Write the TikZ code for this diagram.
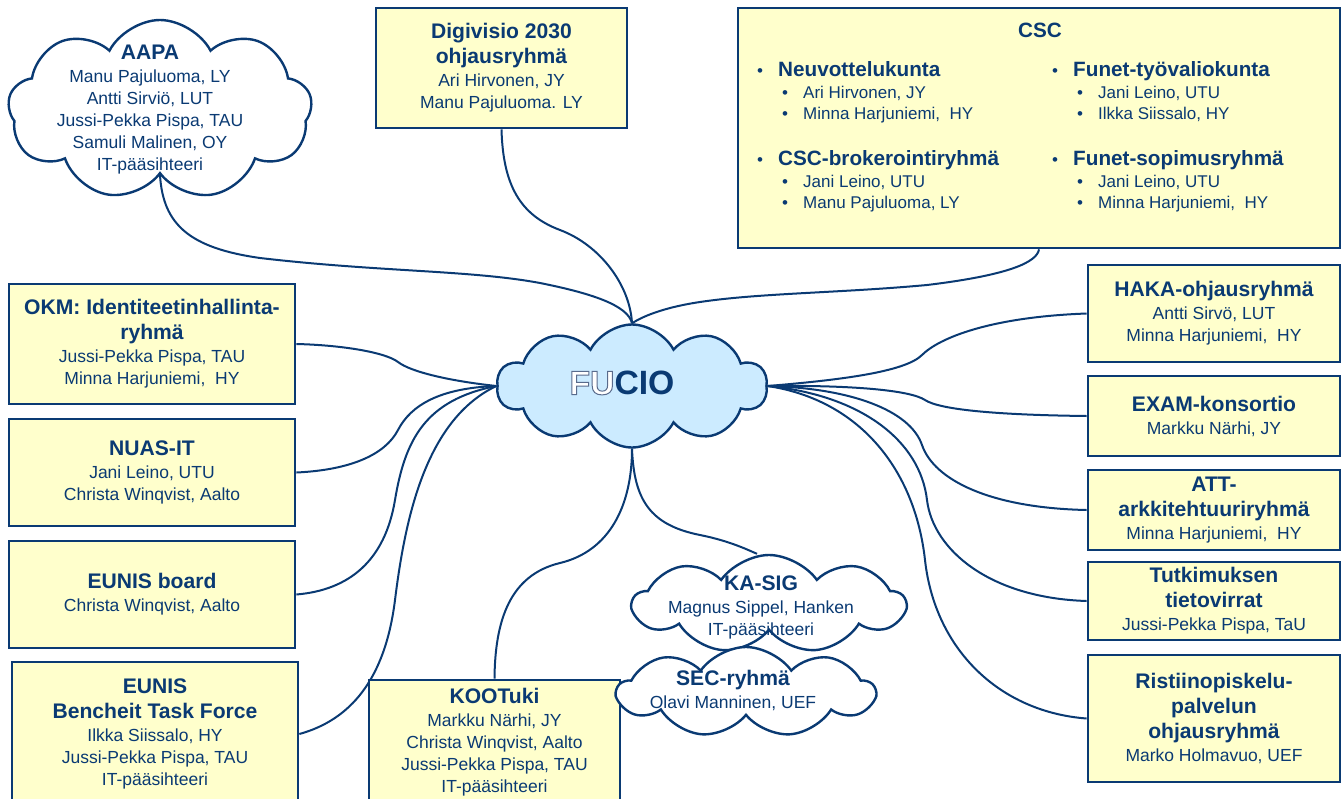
\documentclass[tikz,border=0pt]{standalone}
\usepackage{fontspec}
\setmainfont{Liberation Sans}
\usetikzlibrary{shapes.symbols}
\definecolor{navy}{RGB}{10,58,115}
\definecolor{boxfill}{RGB}{255,255,204}
\definecolor{cloudblue}{RGB}{204,235,255}
\newcommand\rmfnt{\fontsize{17.5}{22}\selectfont}
\newcommand\smfnt{\fontsize{17}{21.5}\selectfont}
\newcommand\hd[1]{{\fontsize{21.1}{22}\selectfont\bfseries #1}}
\newcommand\hdc[1]{{\fontsize{20.7}{21.5}\selectfont\bfseries #1}}
\newcommand\bul{\makebox[21pt][l]{\textbullet}}
\newcommand\subul{\hspace*{25pt}\makebox[21pt][l]{\textbullet}}
\newcommand\outlinefu[1]{\special{pdf:literal direct 2 Tr 1 w 0.35 0.42 0.55 RG}#1\special{pdf:literal direct 0 Tr}}
\pgfdeclarelayer{bg}
\pgfsetlayers{bg,main}
\tikzset{
  box/.style={draw=navy, line width=2.7pt, fill=boxfill, inner sep=0pt, align=center, text=navy, font=\rmfnt},
  txt/.style={inner sep=0pt, align=center, text=navy, font=\rmfnt},
  csctxt/.style={inner sep=0pt, align=left, anchor=north west, text=navy, font=\smfnt},
  cloudshape/.style={cloud, cloud puffs=10, cloud puff arc=125, cloud ignores aspect, draw=navy, line width=2.4pt, fill=white, inner sep=0pt},
  smallcloud/.style={cloudshape, cloud puffs=9, cloud puff arc=110},
  conn/.style={draw=navy, line width=2pt},
}
\begin{document}
\begin{tikzpicture}[x=1pt,y=-1pt]
\useasboundingbox (0,0) rectangle (1344,798);

% ---------- shapes ----------
\node[cloudshape, fill=cloudblue, minimum width=270pt, minimum height=123pt] (fucio) at (632,386) {};
\node[txt] (fuciotext) at (622,383) {\fontsize{33.7}{36}\selectfont\bfseries\textcolor{white}{\outlinefu{FU}}CIO};

\node[cloudshape, cloud puffs=9, minimum width=304pt, minimum height=180pt] (aapa) at (160,110) {};
\node[txt] (aapatext) at (150,110) {\hd{AAPA}\\[1pt]Manu Pajuluoma, LY\\Antti Sirviö, LUT\\Jussi-Pekka Pispa, TAU\\Samuli Malinen, OY\\IT-pääsihteeri};

\node[box, minimum width=251pt, minimum height=120pt] (digi) at (501.5,68)
  {\hd{Digivisio 2030}\\[3pt]\hd{ohjausryhmä}\\[1pt]Ari Hirvonen, JY\\Manu Pajuluoma. LY};

\node[box, minimum width=602pt, minimum height=240pt] (csc) at (1039,128) {};
\node[txt] (csctitle) at (1040,30) {\hdc{CSC}};
\node[csctxt] (neuv) at (757,61.3)
  {\bul\hdc{Neuvottelukunta}\\\subul Ari Hirvonen, JY\\\subul Minna Harjuniemi,~ HY};
\node[csctxt] (brok) at (757,150.3)
  {\bul\hdc{CSC-brokerointiryhmä}\\\subul Jani Leino, UTU\\\subul Manu Pajuluoma, LY};
\node[csctxt] (funtyo) at (1052,61.3)
  {\bul\hdc{Funet-työvaliokunta}\\\subul Jani Leino, UTU\\\subul Ilkka Siissalo, HY};
\node[csctxt] (funsop) at (1052,150.3)
  {\bul\hdc{Funet-sopimusryhmä}\\\subul Jani Leino, UTU\\\subul Minna Harjuniemi,~ HY};

\node[box, minimum width=286pt, minimum height=120pt] (okm) at (152,344)
  {\hd{OKM: Identiteetinhallinta-}\\[3pt]\hd{ryhmä}\\[1pt]Jussi-Pekka Pispa, TAU\\Minna Harjuniemi,~ HY};
\node[box, minimum width=286pt, minimum height=107pt] (nuas) at (152,472.5)
  {\hd{NUAS-IT}\\[1pt]Jani Leino, UTU\\Christa Winqvist, Aalto};
\node[box, minimum width=286pt, minimum height=107pt] (eboard) at (152,594.5)
  {\hd{EUNIS board}\\[1pt]Christa Winqvist, Aalto};
\node[box, minimum width=286pt, minimum height=144pt] (bench) at (155,734)
  {\hd{EUNIS}\\[3pt]\hd{Bencheit Task Force}\\[1pt]Ilkka Siissalo, HY\\Jussi-Pekka Pispa, TAU\\IT-pääsihteeri};
\node[box, minimum width=251pt, minimum height=124pt] (koo) at (494.5,742)
  {\hd{KOOTuki}\\[1pt]Markku Närhi, JY\\Christa Winqvist, Aalto\\Jussi-Pekka Pispa, TAU\\IT-pääsihteeri};

\node[box, minimum width=252pt, minimum height=97pt] (haka) at (1214,313.5)
  {\hd{HAKA-ohjausryhmä}\\[1pt]Antti Sirvö, LUT\\Minna Harjuniemi,~ HY};
\node[box, minimum width=252pt, minimum height=80pt] (exam) at (1214,416)
  {\hd{EXAM-konsortio}\\[1pt]Markku Närhi, JY};
\node[box, minimum width=252pt, minimum height=80pt] (att) at (1214,510)
  {\hd{ATT-}\\[3pt]\hd{arkkitehtuuriryhmä}\\[1pt]Minna Harjuniemi,~ HY};
\node[box, minimum width=252pt, minimum height=78pt] (tutk) at (1214,601)
  {\hd{Tutkimuksen}\\[3pt]\hd{tietovirrat}\\[1pt]Jussi-Pekka Pispa, TaU};
\node[box, minimum width=252pt, minimum height=127pt] (rist) at (1214,718.5)
  {\hd{Ristiinopiskelu-}\\[3pt]\hd{palvelun}\\[3pt]\hd{ohjausryhmä}\\[1pt]Marko Holmavuo, UEF};

\node[smallcloud, minimum width=272pt, minimum height=98pt] (kasig) at (769,604) {};
\node[smallcloud, minimum width=257pt, minimum height=90pt] (sec) at (746,692) {};
\node[txt] (kasigtext) at (761,607) {\hd{KA-SIG}\\[1pt]Magnus Sippel, Hanken\\IT-pääsihteeri};
\node[txt] (sectext) at (733,690) {\hd{SEC-ryhmä}\\[1pt]Olavi Manninen, UEF};

% ---------- connectors (behind) ----------
\begin{pgfonlayer}{bg}
\draw[conn] (digi.south) .. controls (503,185) and (520,215) .. (560,230)
  .. controls (600,245) and (630,285) .. (fucio.north);
\draw[conn] (aapa.south) .. controls (163,225) and (190,248) .. (260,258)
  .. controls (380,272) and (470,270) .. (540,283)
  .. controls (590,293) and (628,305) .. (fucio.north);
\draw[conn] (csc.south) .. controls (1037,262) and (1010,275) .. (927,285)
  .. controls (840,293) and (760,293) .. (700,302)
  .. controls (660,308) and (640,318) .. (fucio.north);
\draw[conn] (okm.east) .. controls (340,345) and (385,352) .. (398,362)
  .. controls (411,372) and (450,381) .. (fucio.west);
\draw[conn] (nuas.east) .. controls (350,470) and (385,455) .. (398,430)
  .. controls (411,405) and (440,388) .. (fucio.west);
\draw[conn] (eboard.east) .. controls (350,590) and (385,560) .. (395,500)
  .. controls (405,440) and (425,400) .. (fucio.west);
\draw[conn] (bench.east) .. controls (350,720) and (385,680) .. (395,600)
  .. controls (405,520) and (425,420) .. (fucio.west);
\draw[conn] (koo.north) .. controls (495,620) and (510,575) .. (560,563)
  .. controls (610,551) and (632,505) .. (fucio.south);
\draw[conn] (fucio.south) .. controls (634,500) and (650,525) .. (700,535)
  .. controls (730,541) and (748,550) .. ([xshift=-12pt]kasig.north);
\draw[conn] (fucio.east) .. controls (840,380) and (905,372) .. (922,355)
  .. controls (939,338) and (990,317) .. (haka.west);
\draw[conn] (fucio.east) .. controls (850,385) and (910,390) .. (925,400)
  .. controls (940,410) and (1000,415) .. (exam.west);
\draw[conn] (fucio.east) .. controls (850,388) and (910,410) .. (922,445)
  .. controls (934,480) and (990,508) .. (att.west);
\draw[conn] (fucio.east) .. controls (860,395) and (920,440) .. (927,500)
  .. controls (933,550) and (990,598) .. (tutk.west);
\draw[conn] (fucio.east) .. controls (860,400) and (915,470) .. (925,560)
  .. controls (935,650) and (1000,712) .. (rist.west);
\end{pgfonlayer}
\end{tikzpicture}
\end{document}
